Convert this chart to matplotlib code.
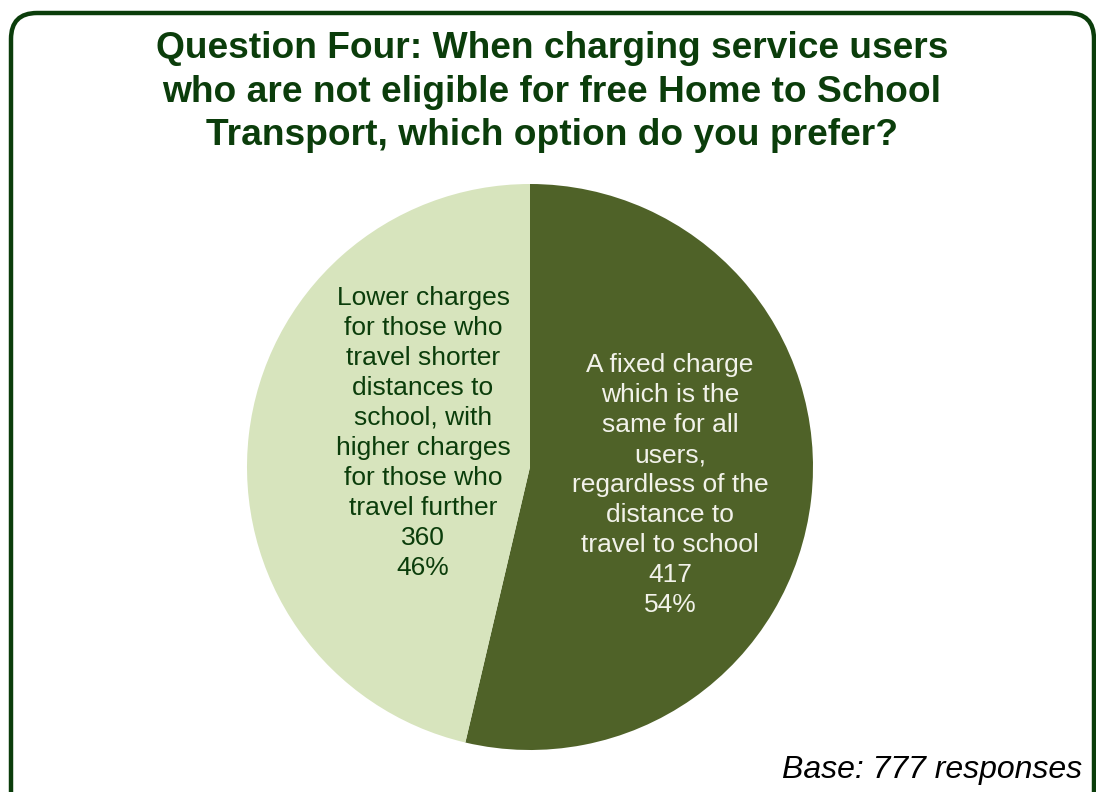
import numpy as np
import matplotlib
matplotlib.use('Agg')
import matplotlib.pyplot as plt
from matplotlib.patches import FancyBboxPatch
from matplotlib.transforms import IdentityTransform

plt.rcParams['font.family'] = ['Liberation Sans', 'DejaVu Sans']

# Data
categories = [
    'A fixed charge\nwhich is the\nsame for all\nusers,\nregardless of the\ndistance to\ntravel to school',
    'Lower charges\nfor those who\ntravel shorter\ndistances to\nschool, with\nhigher charges\nfor those who\ntravel further',
]
counts = [417, 360]
percents = [54, 46]
colors = ['#4F6228', '#D7E4BD']
text_colors = ['#F2F2EA', '#0B3D0B']
title = ('Question Four: When charging service users\n'
         'who are not eligible for free Home to School\n'
         'Transport, which option do you prefer?')
base_note = 'Base: 777 responses'

W, H = 1096, 792
fig = plt.figure(figsize=(W / 100, H / 100), dpi=100)

# rounded frame around the whole chart (pixel coords)
frame = FancyBboxPatch((11, -40), 1083, H - 13 + 40,
                       boxstyle='round,pad=0,rounding_size=26',
                       transform=IdentityTransform(), fill=False,
                       edgecolor='#0B3D0B', linewidth=3.2)
fig.patches.append(frame)

# pie axes: centre (530, 467) px, radius 283 px
cx, cy, r = 530, 467, 283
ax = fig.add_axes([(cx - r) / W, (H - cy - r) / H, 2 * r / W, 2 * r / H])
wedges, _ = ax.pie(counts, colors=colors, startangle=90, counterclock=False,
                   radius=1.0, wedgeprops=dict(linewidth=0))
ax.set_xlim(-1, 1)
ax.set_ylim(-1, 1)
ax.set_aspect('equal')
ax.axis('off')

# labels placed inside each wedge
label_pos = [(0.495, -0.064), (-0.378, 0.12)]
for i, (lab, n, p) in enumerate(zip(categories, counts, percents)):
    x, y = label_pos[i]
    ax.text(x, y, f'{lab}\n{n}\n{p}%', ha='center', va='center',
            fontsize=19, color=text_colors[i], linespacing=1.32)

fig.text(552 / W, 1 - 92 / H, title, ha='center', va='center', fontsize=26.7,
         fontweight='bold', color='#0B3D0B', linespacing=1.32)

fig.text(1082 / W, 1 - 778 / H, base_note, ha='right', va='baseline',
         fontsize=23, style='italic', color='black')

fig.savefig('out.png', dpi=100)
